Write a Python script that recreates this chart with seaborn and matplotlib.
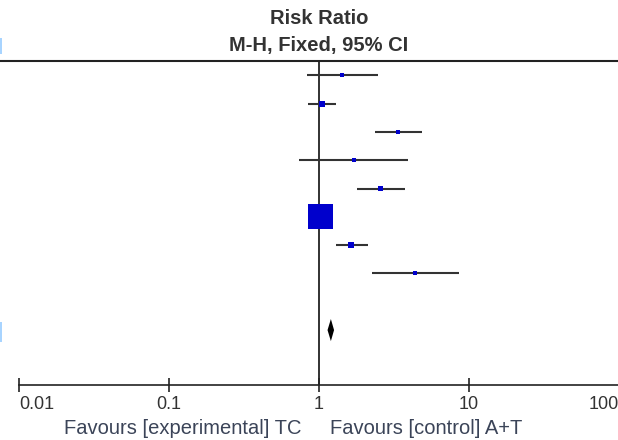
import numpy as np
import pandas as pd
import matplotlib
matplotlib.use('Agg')
import matplotlib.pyplot as plt
import seaborn as sns
from matplotlib.lines import Line2D
from matplotlib.patches import Polygon, Rectangle
from matplotlib.ticker import NullLocator

# ------------------------------------------------------------
# dados
# ------------------------------------------------------------
study_row  = [1, 2, 3, 4, 5, 6, 7, 8]
risk_ratio = [1.42, 1.04, 3.35, 1.71, 2.59, 1.02, 1.63, 4.37]
ci_low     = [0.83, 0.85, 2.36, 0.74, 1.80, 0.93, 1.30, 2.25]
ci_high    = [2.49, 1.30, 4.88, 3.94, 3.73, 1.14, 2.11, 8.61]
weight     = [2.0, 4.6, 2.0, 2.0, 3.2, 80.2, 3.9, 2.1]

pooled_row  = 10
pooled_rr   = 1.20
pooled_low  = 1.14
pooled_high = 1.26

tick_values = [0.01, 0.1, 1, 10, 100]
tick_labels = ['0.01', '0.1', '1', '10', '100']

df = pd.DataFrame({'row': study_row, 'rr': risk_ratio, 'lo': ci_low,
                   'hi': ci_high, 'weight': weight})

# ------------------------------------------------------------
# figura
# ------------------------------------------------------------
sns.set_theme(style='white')
plt.rcParams['font.family'] = ['Liberation Sans', 'DejaVu Sans']

W, H = 618, 440
fig = plt.figure(figsize=(W / 100, H / 100), dpi=100)
ax = fig.add_axes([19 / W, (H - 385) / H, 600 / W, (385 - 61) / H])
ax.set_xscale('log')

# intervalos de confiança
ax.hlines(df['row'], df['lo'], df['hi'], color='#333333', lw=1.5, zorder=2)

# quadrados (área proporcional ao peso)
sns.scatterplot(data=df, x='rr', y='row', size='weight', sizes=(0, 404),
                size_norm=(0, 100), marker='s', color='#0000cc',
                linewidth=0, legend=False, zorder=3, ax=ax)

# diamante do efeito combinado
ax.add_patch(Polygon([[pooled_low, pooled_row], [pooled_rr, pooled_row - 0.39],
                      [pooled_high, pooled_row], [pooled_rr, pooled_row + 0.39]],
                     closed=True, color='black', lw=0, zorder=3))

ax.axvline(1, color='#222222', lw=1.3, zorder=1)

ax.set_xlim(0.01, 100)
ax.set_ylim(11.94, 0.495)
ax.set_xlabel('')
ax.set_ylabel('')
ax.set_yticks([])
ax.set_xticks(tick_values)
ax.set_xticklabels(tick_labels)
ax.xaxis.set_minor_locator(NullLocator())
ax.tick_params(axis='x', direction='inout', length=10, width=1.2,
               color='#222222', labelsize=13, labelcolor='#333333', pad=3,
               bottom=True)
xl = ax.get_xticklabels()
xl[0].set_ha('left')
xl[-1].set_ha('right')

sns.despine(ax=ax, left=True)
ax.spines['bottom'].set_color('#222222')
ax.spines['bottom'].set_linewidth(1.2)
ax.patch.set_alpha(0)

# linha superior (largura total)
fig.add_artist(Line2D([0, 1], [1 - 61 / H] * 2, color='#222222', lw=1.5))

# títulos
fig.text(319 / W, 1 - 19 / H, 'Risk Ratio', ha='center', va='center',
         fontsize=14.5, fontweight='bold', color='#333333')
fig.text(319 / W, 1 - 46 / H, 'M-H, Fixed, 95% CI', ha='center', va='center',
         fontsize=14.5, fontweight='bold', color='#333333')

# rótulos "Favours"
fig.text(301 / W, 1 - 428 / H, 'Favours [experimental] TC', ha='right',
         va='center', fontsize=14.5, color='#3b4458')
fig.text(330 / W, 1 - 428 / H, 'Favours [control] A+T', ha='left',
         va='center', fontsize=14.5, color='#3b4458')

# fragmentos azuis na borda esquerda
fig.add_artist(Rectangle((0, 1 - 54 / H), 2 / W, 16 / H,
                         transform=fig.transFigure, color='#a8d4ff', lw=0))
fig.add_artist(Rectangle((0, 1 - 342 / H), 2 / W, 20 / H,
                         transform=fig.transFigure, color='#a8d4ff', lw=0))

fig.savefig('out.png', dpi=100)
plt.close(fig)
